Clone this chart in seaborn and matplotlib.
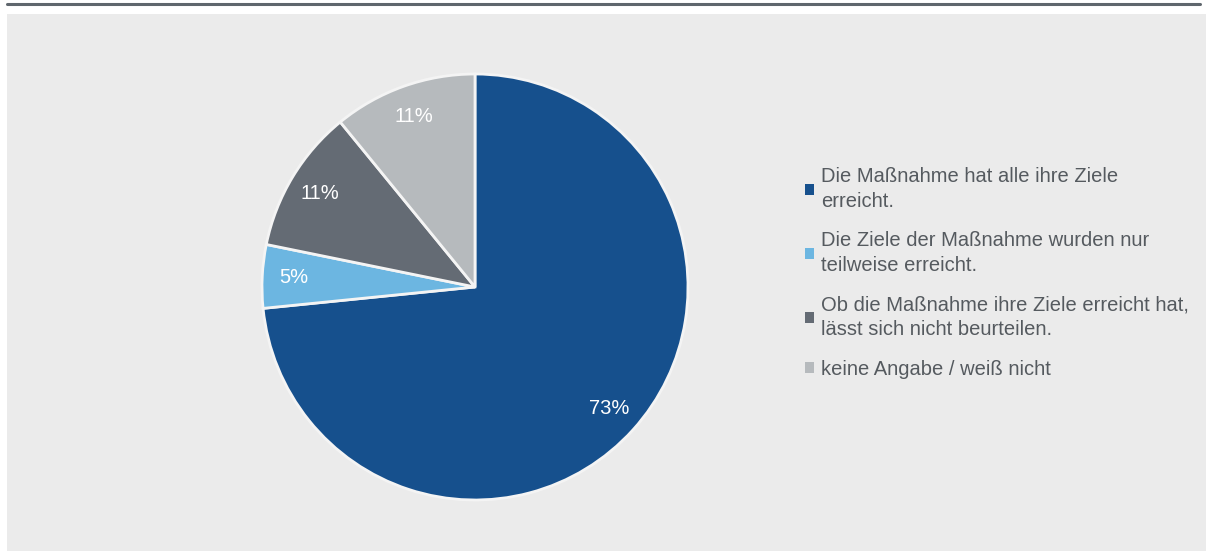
import matplotlib
matplotlib.use("Agg")
import matplotlib.pyplot as plt
import matplotlib.patches as mpatches
from matplotlib.lines import Line2D
import seaborn as sns

sns.set_theme(style="white")
plt.rcParams["font.family"] = ["Liberation Sans Narrow", "Liberation Sans", "DejaVu Sans"]

categories = [
    "Die Maßnahme hat alle ihre Ziele\nerreicht.",
    "Die Ziele der Maßnahme wurden nur\nteilweise erreicht.",
    "Ob die Maßnahme ihre Ziele erreicht hat,\nlässt sich nicht beurteilen.",
    "keine Angabe / weiß nicht",
]
shares = [73.4, 4.8, 10.9, 10.9]
colors = ["#16508d", "#6cb6e1", "#646b74", "#b6babd"]

W, H = 1206, 551
fig = plt.figure(figsize=(W / 100, H / 100), dpi=100)
fig.patch.set_facecolor("white")

# grey panel and top rule
fig.add_artist(mpatches.Rectangle((7 / W, 0), 1 - 7 / W, (H - 14) / H,
                                  transform=fig.transFigure, facecolor="#ebebeb",
                                  edgecolor="none", zorder=0))
fig.add_artist(Line2D([7 / W, 1200 / W], [(H - 4) / H, (H - 4) / H],
                      transform=fig.transFigure, color="#5f666d", linewidth=2.2))

cx, cy, r = 475, 287, 213
ax = fig.add_axes([(cx - r) / W, (H - cy - r) / H, 2 * r / W, 2 * r / H])
ax.set_facecolor("none")
wedges, texts, autotexts = ax.pie(
    shares,
    colors=colors,
    startangle=90,
    counterclock=False,
    autopct="%.0f%%",
    pctdistance=0.85,
    wedgeprops=dict(edgecolor="#f4f4f4", linewidth=2),
    textprops=dict(color="white", fontsize=14.5),
)
ax.set_xlim(-1, 1)
ax.set_ylim(-1, 1)
ax.set_aspect("equal")
ax.axis("off")

handles = [mpatches.Patch(facecolor=c, edgecolor="none") for c in colors]
leg = fig.legend(
    handles, categories,
    loc="upper left",
    bbox_to_anchor=(787 / W, (H - 149) / H),
    frameon=False,
    fontsize=14.5,
    handlelength=0.45,
    handleheight=0.45,
    handletextpad=0.35,
    labelspacing=1.0,
    labelcolor="#555a5f",
)
for t in leg.get_texts():
    t.set_linespacing(1.4)

fig.savefig("out.png", dpi=100)
